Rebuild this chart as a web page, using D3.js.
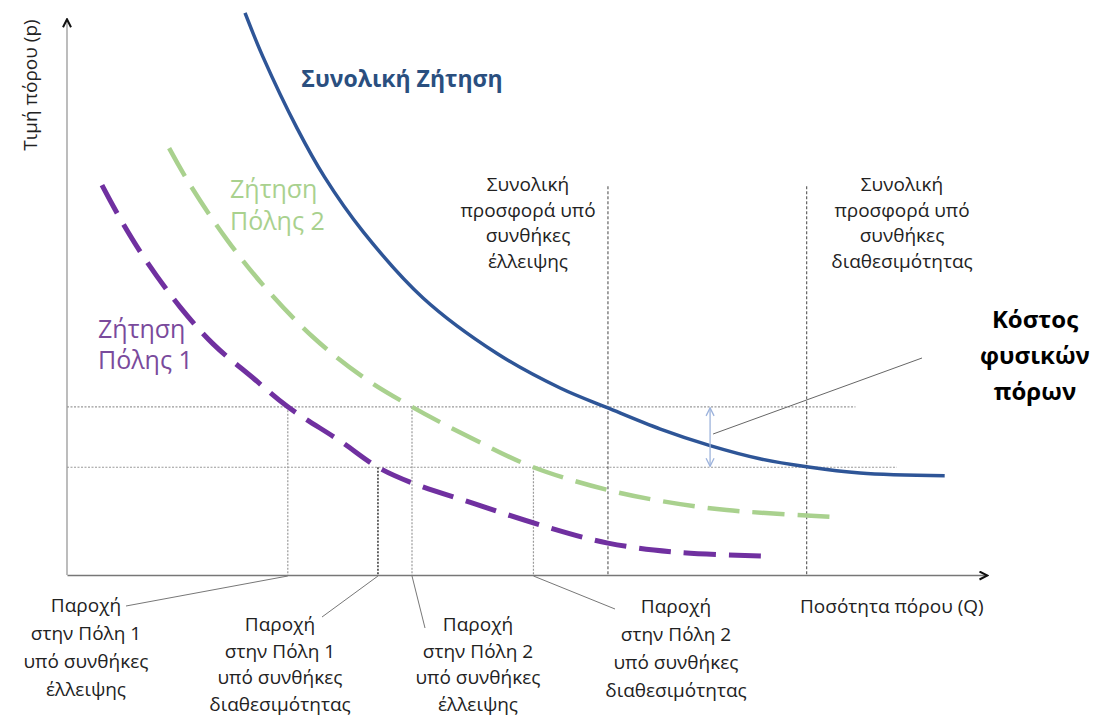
<!DOCTYPE html>
<html><head><meta charset="utf-8">
<script src="https://cdn.jsdelivr.net/npm/d3@7"></script>
<style>
html,body{margin:0;padding:0;background:#fff;}
svg{display:block;font-family:"Open Sans","Noto Sans",sans-serif;}
</style></head>
<body>
<svg id="chart" width="1096" height="719"></svg>
<script>
// ---- Data ----
const totalDemandQ = [19.35, 21.3, 25.0, 28.0, 32.2, 38.7, 46.7, 53.6, 58.8, 64.5, 69.9, 75.3, 80.4, 86.2, 95.4];
const totalDemandP = [98.6, 90.9, 78.4, 69.8, 60.2, 48.6, 38.9, 32.8, 29.3, 25.6, 22.7, 20.4, 19.0, 17.9, 17.4];
const city2Q = [11.1, 13.4, 17.4, 21.3, 26.7, 32.2, 37.5, 44.1, 50.7, 58.8, 64.5, 71.7, 83.3];
const city2P = [74.9, 68.4, 58.8, 50.9, 41.8, 34.7, 29.5, 23.9, 18.9, 14.9, 13.0, 11.4, 10.2];
const city1Q = [3.8, 6.1, 8.7, 12.3, 15.9, 20.2, 24.0, 29.7, 33.8, 37.6, 44.1, 51.4, 58.8, 66.3, 76.1];
const city1P = [68.4, 61.6, 54.9, 47.0, 40.5, 34.6, 29.5, 23.5, 18.9, 16.1, 12.6, 8.8, 5.6, 4.0, 3.3];
const priceLevels = [29.5, 18.9];           // scarcity price, availability price
const priceLineEnds = [85.7, 90.2];         // Q where the dotted price lines end
const supplyQ = [58.8, 80.4];               // total supply: scarcity, availability
const supplyTop = 68.2;
const allocQ = [24.0, 33.8, 37.5, 50.7];    // city1 scarcity, city1 avail, city2 scarcity, city2 avail
const allocP = [29.5, 18.9, 29.5, 18.9];
const costArrowQ = 69.9;

const titleTotal = "Συνολική Ζήτηση";
const labelCity2 = ["Ζήτηση", "Πόλης 2"];
const labelCity1 = ["Ζήτηση", "Πόλης 1"];
const supplyLabels = [
  ["Συνολική", "προσφορά υπό", "συνθήκες", "έλλειψης"],
  ["Συνολική", "προσφορά υπό", "συνθήκες", "διαθεσιμότητας"]
];
const allocLabels = [
  ["Παροχή", "στην Πόλη 1", "υπό συνθήκες", "έλλειψης"],
  ["Παροχή", "στην Πόλη 1", "υπό συνθήκες", "διαθεσιμότητας"],
  ["Παροχή", "στην Πόλη 2", "υπό συνθήκες", "έλλειψης"],
  ["Παροχή", "στην Πόλη 2", "υπό συνθήκες", "διαθεσιμότητας"]
];
const costLabel = ["Κόστος", "φυσικών", "πόρων"];
const xAxisTitle = "Ποσότητα πόρου (Q)";
const yAxisTitle = "Τιμή πόρου (p)";

// ---- Drawing ----
const svg = d3.select("#chart");
const x = d3.scaleLinear().domain([0, 100]).range([67, 987]);
const y = d3.scaleLinear().domain([0, 100]).range([575, 5]);

const defs = svg.append("defs");
defs.append("marker").attr("id", "axArrow").attr("viewBox", "0 0 10 10")
  .attr("refX", 9).attr("refY", 5).attr("markerWidth", 10).attr("markerHeight", 10)
  .attr("markerUnits", "userSpaceOnUse").attr("orient", "auto")
  .append("path").attr("d", "M1,1 L9,5 L1,9").attr("fill", "none")
  .attr("stroke", "#111").attr("stroke-width", 2);
defs.append("marker").attr("id", "blueArrow").attr("viewBox", "0 0 10 10")
  .attr("refX", 9).attr("refY", 5).attr("markerWidth", 10).attr("markerHeight", 10)
  .attr("markerUnits", "userSpaceOnUse").attr("orient", "auto-start-reverse")
  .append("path").attr("d", "M1,1 L9,5 L1,9").attr("fill", "none")
  .attr("stroke", "#9db3dc").attr("stroke-width", 1.3);

// guide lines
const g = svg.append("g");
priceLevels.forEach((p, i) => {
  g.append("line").attr("x1", x(0)).attr("x2", x(priceLineEnds[i]))
    .attr("y1", y(p)).attr("y2", y(p))
    .attr("stroke", "#9a9a9a").attr("stroke-width", 1.2).attr("stroke-dasharray", "2,1.5");
});
allocQ.forEach((q, i) => {
  g.append("line").attr("x1", x(q)).attr("x2", x(q))
    .attr("y1", y(allocP[i])).attr("y2", y(0))
    .attr("stroke", i === 1 ? "#333" : "#9a9a9a")
    .attr("stroke-width", i === 1 ? 1.5 : 1.2).attr("stroke-dasharray", "2,1.5");
});
supplyQ.forEach(q => {
  g.append("line").attr("x1", x(q)).attr("x2", x(q))
    .attr("y1", y(supplyTop)).attr("y2", y(0))
    .attr("stroke", "#555").attr("stroke-width", 1.1).attr("stroke-dasharray", "3,2");
});

// axes
const xAxis = d3.axisBottom(x).tickValues([]).tickSizeOuter(0);
const yAxis = d3.axisLeft(y).tickValues([]).tickSizeOuter(0);
const gx = svg.append("g").attr("transform", `translate(0,${y(0)})`).call(xAxis);
const gy = svg.append("g").attr("transform", `translate(${x(0)},0)`).call(yAxis);
gx.select(".domain").attr("stroke", "#777").attr("stroke-width", 1.5).attr("marker-end", "url(#axArrow)");
gy.select(".domain").attr("stroke", "#999").attr("stroke-width", 1.3)
  .attr("d", `M0,${y(0)}V${y(97.5)}`).attr("marker-end", "url(#axArrow)");

// curves
const line = d3.line().x(d => x(d[0])).y(d => y(d[1])).curve(d3.curveCatmullRom.alpha(0.5));
const zip = (a, b) => a.map((v, i) => [v, b[i]]);
svg.append("path").attr("d", line(zip(city1Q, city1P))).attr("fill", "none")
  .attr("stroke", "#7030a0").attr("stroke-width", 5).attr("stroke-dasharray", "32,13");
svg.append("path").attr("d", line(zip(city2Q, city2P))).attr("fill", "none")
  .attr("stroke", "#a9d18e").attr("stroke-width", 4.5).attr("stroke-dasharray", "32,13");
svg.append("path").attr("d", line(zip(totalDemandQ, totalDemandP))).attr("fill", "none")
  .attr("stroke", "#2e5597").attr("stroke-width", 3.5);

// cost arrow + leader
svg.append("line").attr("x1", x(costArrowQ)).attr("x2", x(costArrowQ))
  .attr("y1", y(priceLevels[1]) - 1).attr("y2", y(priceLevels[0]) + 1)
  .attr("stroke", "#9db3dc").attr("stroke-width", 1.3)
  .attr("marker-start", "url(#blueArrow)").attr("marker-end", "url(#blueArrow)");
svg.append("line").attr("x1", x(costArrowQ) + 3).attr("y1", 434).attr("x2", 922).attr("y2", 358)
  .attr("stroke", "#666").attr("stroke-width", 1);

// labels
function block(lines, cx, y0, dy, opts) {
  const t = svg.append("text").attr("text-anchor", opts.anchor || "middle")
    .attr("font-size", opts.size).attr("fill", opts.color)
    .attr("font-weight", opts.weight || "normal");
  lines.forEach((s, i) => t.append("tspan").attr("x", cx).attr("y", y0 + i * dy).text(s));
}
const small = 19;
block([titleTotal], 402, 87, 0, {size: 23, color: "#2a4f7f", weight: "bold"});
block(labelCity2, 230, 198, 32, {size: 25, color: "#a9d18e", anchor: "start"});
block(labelCity1, 98, 338, 31, {size: 25, color: "#7a4a9c", anchor: "start"});
block(supplyLabels[0], 528, 191, 25.5, {size: small, color: "#222"});
block(supplyLabels[1], 902, 191, 25.5, {size: small, color: "#222"});
block(costLabel, 1035, 328, 36, {size: 24, color: "#000", weight: "bold"});
block(allocLabels[0], 86, 612, 28, {size: small, color: "#222"});
block(allocLabels[1], 280, 631, 26.5, {size: small, color: "#222"});
block(allocLabels[2], 478, 631, 26.5, {size: small, color: "#222"});
block(allocLabels[3], 676, 613, 28, {size: small, color: "#222"});
block([xAxisTitle], 800, 613, 0, {size: small, color: "#222", anchor: "start"});
svg.append("text").attr("transform", "translate(37,85) rotate(-90)")
  .attr("text-anchor", "middle").attr("font-size", small).attr("fill", "#222").text(yAxisTitle);

// leaders from allocation points to their labels
const leaders = [[allocQ[0], 126, 606], [allocQ[1], 322, 617], [allocQ[2], 425, 628], [allocQ[3], 615, 609]];
leaders.forEach(([q, lx, ly]) => {
  svg.append("line").attr("x1", x(q)).attr("y1", y(0) + 1).attr("x2", lx).attr("y2", ly)
    .attr("stroke", "#777").attr("stroke-width", 1);
});
</script>
</body></html>
